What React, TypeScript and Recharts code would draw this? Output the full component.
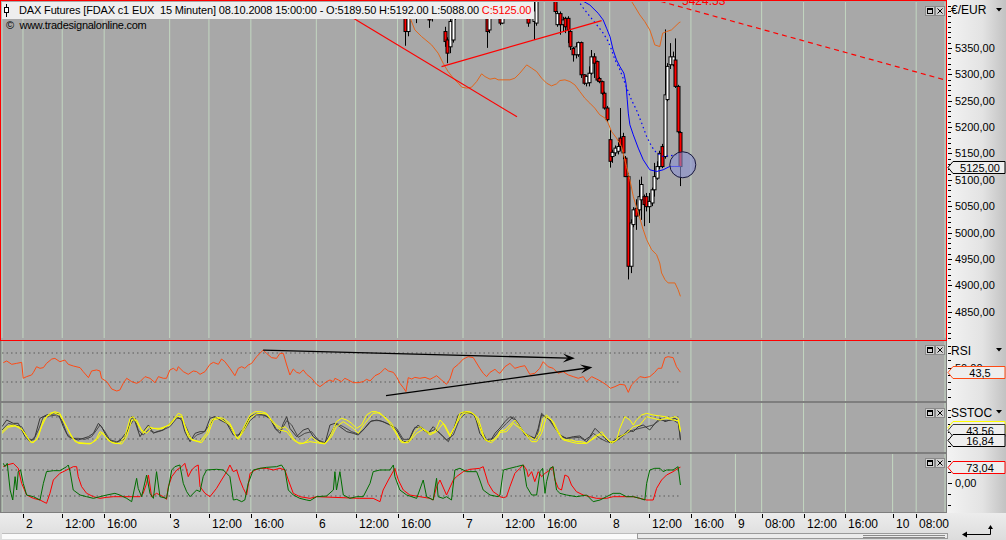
import React from 'react';
import {
  ComposedChart,
  Line,
  Bar,
  XAxis,
  YAxis,
  CartesianGrid,
  ReferenceLine,
  ReferenceDot,
} from 'recharts';

// x = 15-minute bar number (bar 0 = 01.10.2008 20:15, 56 bars per session day)
const tickBars = [8, 23, 39, 64, 79, 95, 120, 135, 151, 176, 191, 207, 232, 247, 263, 280, 290, 306, 322, 340, 349];
const tickLabels = ['2', '12:00', '16:00', '3', '12:00', '16:00', '6', '12:00', '16:00', '7', '12:00', '16:00', '8', '12:00', '16:00', '9', '08:00', '12:00', '16:00', '10', '08:00'];

// FDAX candles (only bars that reach into the visible price range)
const candleBars = [154, 155, 157, 158, 163, 164, 169, 170, 171, 172, 173, 185, 186, 190, 191, 201, 203, 204,
  211, 212, 213, 214, 215, 216, 217, 218, 219, 220, 221, 222, 223, 224, 225, 226, 227, 228, 229, 230, 231,
  232, 233, 234, 235, 236, 237, 238, 239, 240, 241, 242, 243, 244, 245, 246, 247, 248, 249, 250, 251, 252, 253, 254, 255, 256, 257, 258, 259];
const opens = [5460, 5381, 5450, 5440, 5450, 5407, 5381, 5365, 5352, 5365, 5445, 5450, 5384, 5440, 5397, 5445, 5400, 5397,
  5450, 5394, 5415, 5394, 5406, 5406, 5381, 5349, 5337, 5337, 5360, 5299, 5283, 5284, 5302, 5333, 5324, 5292, 5286, 5264, 5236,
  5176, 5144, 5151, 5154, 5179, 5182, 5141, 5106, 4936, 5015, 5046, 5043, 5062, 5068, 5068, 5049, 5056, 5081, 5103, 5125, 5163, 5144, 5252, 5318, 5318, 5327, 5277, 5189.5];
const highs = [5470, 5460, 5460, 5460, 5460, 5460, 5390, 5370, 5410, 5420, 5455, 5460, 5455, 5455, 5450, 5460, 5440, 5455,
  5460, 5420, 5419, 5409, 5409, 5410, 5384, 5352, 5360, 5362, 5362, 5300, 5298, 5315, 5346, 5340, 5326, 5295, 5288, 5267, 5240,
  5195, 5157, 5165, 5175, 5236, 5189, 5145, 5113, 5025, 5048, 5063, 5100, 5106, 5072, 5075, 5075, 5085, 5132, 5135, 5155, 5168, 5385, 5321, 5359, 5343, 5368, 5280, 5192];
const lows = [5354, 5372, 5407, 5397, 5388, 5400, 5352, 5321, 5340, 5360, 5403, 5350, 5378, 5393, 5395, 5390, 5365, 5392,
  5415, 5390, 5375, 5381, 5378, 5359, 5346, 5324, 5330, 5333, 5293, 5280, 5277, 5277, 5299, 5293, 5286, 5283, 5261, 5233, 5210,
  5123, 5132, 5145, 5148, 5155, 5139, 5105, 4911, 4923, 5010, 5005, 5031, 5024, 5012, 5040, 5018, 5050, 5068, 5100, 5120, 5122, 5140, 5249, 5310, 5315, 5274, 5188, 5088];
const closes = [5381, 5445, 5430, 5445, 5403, 5445, 5362, 5340, 5400, 5409, 5420, 5381, 5440, 5397, 5430, 5397, 5420, 5440,
  5419, 5415, 5394, 5403, 5390, 5384, 5352, 5337, 5352, 5360, 5299, 5283, 5296, 5302, 5333, 5321, 5289, 5286, 5264, 5236, 5214,
  5135, 5152, 5160, 5163, 5163, 5151, 5106, 4936, 5018, 5043, 5031, 5068, 5091, 5053, 5049, 5059, 5081, 5106, 5125, 5150, 5125, 5261, 5315, 5333, 5333, 5277, 5191, 5125];

// overlays in the price panel: [bar, price]
const lowerBand = [[153.4, 5441], [155.1, 5415.7], [157.6, 5384.1], [160.2, 5371.4], [164, 5355.7], [166.5, 5340], [168.4, 5321], [170.3, 5305.1], [172.3, 5292.6], [174.2, 5283.1], [175.5, 5275.6], [177.4, 5273.7], [179.3, 5275.6], [181.2, 5286.2], [183.1, 5300.8], [184.4, 5295.6], [186.3, 5290.7], [188.2, 5292.6], [189.4, 5289.4], [193.9, 5289.4], [195.8, 5292.6], [197.7, 5302.1], [200.3, 5317.8], [202.2, 5311.6], [204.1, 5305.1], [206, 5292.6], [207.9, 5283.1], [209.8, 5278], [211.7, 5281.8], [213, 5288.1], [214.9, 5289.4], [216.8, 5286.2], [218.7, 5279.9], [220.6, 5267.2], [222.5, 5254.7], [224.4, 5245.3], [226.3, 5235.8], [228.2, 5223.1], [230.2, 5216.9], [231.4, 5207.4], [232.7, 5191.5], [234.6, 5179], [236.5, 5163.1], [238.4, 5125.2], [239.7, 5100], [241, 5068.4], [242.9, 5036.9], [244.8, 5005.3], [246.1, 4986.4], [248, 4967.4], [249.9, 4958], [251.1, 4942.2], [251.8, 4923.3], [253.1, 4910.6], [254.3, 4904.4], [256.9, 4904.4], [258.1, 4891.7], [259, 4879]];
const upperBand = [[240.1, 5440], [241.6, 5428.2], [243.5, 5412.5], [245.4, 5399.8], [247.3, 5384.1], [248.6, 5365.2], [249.2, 5355.7], [251.1, 5352.5], [251.8, 5368.4], [252.2, 5377.8], [253.7, 5380.9], [255.6, 5384.1], [256.9, 5390.3], [258.5, 5397.9], [259, 5399]];
const maSolid = [[221, 5441], [224.4, 5431.4], [227.6, 5415.7], [229.5, 5403], [230.8, 5387.3], [232.1, 5371.4], [233.3, 5346.2], [234.6, 5327.3], [235.9, 5314.6], [237.4, 5302.1], [238.2, 5283.1], [238.7, 5251.5], [239.1, 5226.3], [239.7, 5204.2], [241, 5185.2], [242.9, 5160], [244.8, 5137.9], [247.3, 5118.9], [249.9, 5115.7], [252.4, 5118.9], [254.9, 5125.2], [256.9, 5125.2], [259, 5125.2]];
const maDotted = [[219.8, 5441], [221.9, 5425.6], [224.4, 5409.7], [227, 5393.9], [229.5, 5378.2], [231.4, 5362.3], [232.7, 5346.6], [234, 5327.7], [235.9, 5308.7], [237.8, 5283.1], [240.3, 5251.5], [242.2, 5232.6], [244.2, 5207.4], [246.1, 5182], [248, 5163.1], [249.9, 5150.5], [252.4, 5144.1], [254.9, 5145.5], [257.5, 5147.3]];

// hand-drawn objects
const trendDown = [[130.2, 5418.2], [196.6, 5219.3]];
const trendUp = [[167.8, 5314.6], [228.9, 5401.7]];
const trendDashed = [[248.1, 5442.8], [359.9, 5289.4]];
const circleAt = [259.9, 5128.4];

// RSI
const rsi = [[0.5, 56.7], [1.8, 59], [3.7, 54.4], [5.6, 55.7], [7.5, 57.1], [8.1, 35.1], [9.4, 37.4], [11.3, 39.7], [12, 43.3], [13.2, 51.1], [14.5, 48.9], [15.8, 49.8], [17, 55.7], [19, 61.7], [20.2, 62.6], [22.1, 58], [24, 60.3], [25.3, 54.4], [27.2, 52.1], [29.8, 49.8], [31, 44.3], [33, 36], [34.2, 45.2], [36.1, 46.6], [37.4, 45.2], [38, 35.1], [40, 30.5], [41.9, 20.3], [43.8, 17.6], [45, 19], [46.3, 28.2], [47.6, 35.1], [49.5, 30.5], [51.4, 28.2], [52.7, 30.5], [54.6, 37.4], [56.5, 35.1], [58.4, 29.1], [59.7, 37.4], [61.6, 35.1], [62.8, 35.1], [64.1, 46.6], [65.4, 48.9], [66.7, 45.2], [67.3, 51.1], [69.2, 44.3], [71.1, 40.6], [73, 45.2], [74.3, 44.3], [75.6, 40.6], [77.5, 44.3], [79.4, 54.4], [80.7, 57.1], [82.6, 54.4], [83.8, 61.7], [85.1, 58], [87, 48.9], [88.9, 38.7], [90.2, 48.9], [91.5, 51.1], [92.7, 48.9], [94, 53.4], [95.3, 55.7], [97.2, 64.9], [99.7, 74.1], [101, 69.5], [102.9, 63.6], [104.8, 62.6], [106.1, 69.5], [107.4, 69.5], [108.7, 53.4], [109.9, 39.7], [111.2, 47.9], [112.5, 43.3], [113.7, 42], [115, 46.6], [116.3, 40.6], [118.2, 35.1], [120.1, 26.8], [121.4, 23.6], [122.6, 26.8], [123.9, 30.5], [125.2, 32.8], [126.5, 30.5], [127.1, 35.1], [128.4, 32.8], [129.6, 30.5], [130.9, 35.1], [132.2, 32.8], [134.1, 29.1], [136, 29.1], [137.9, 30.5], [139.2, 33.7], [140.5, 31.4], [142.4, 38.7], [144.3, 42], [146.2, 48.9], [147.5, 45.2], [149.4, 43.3], [150.6, 37.4], [151.9, 28.2], [153.2, 22.2], [154.2, 16.7], [155.1, 36], [156.4, 34.1], [157.6, 36.4], [159.5, 35.1], [161.5, 36.4], [163.4, 33.7], [164.6, 36], [165.9, 38.7], [167.8, 32.8], [169.7, 26.8], [171, 34.1], [172.3, 48.9], [174.2, 54.4], [176.1, 61.7], [178, 64.9], [179.9, 63.6], [182.4, 48.9], [183.7, 42], [185, 37.4], [186.3, 43.3], [188.2, 47.5], [189.4, 43.3], [190.1, 42], [192, 51.1], [193.9, 55.7], [195.8, 48.9], [197.7, 51.1], [199.6, 52.5], [201.5, 40.6], [203.4, 42], [205.3, 48.9], [206.6, 58], [208.5, 51.1], [210.4, 48.9], [212.3, 42], [214.2, 44.3], [216.2, 39.7], [218.1, 37.4], [220, 35.1], [221.9, 37.4], [223.2, 30.5], [225.1, 37.4], [227, 34.1], [228.9, 30.5], [230.8, 25.9], [232.3, 21.3], [234, 23.6], [235.9, 26.8], [237.8, 25.9], [239.1, 15.7], [240.3, 25.9], [241.6, 30.5], [243.5, 37.4], [245.4, 36], [247.3, 37.4], [249.2, 43.3], [250.5, 48.9], [251.8, 48.9], [253.1, 63.6], [254.3, 64.9], [256.2, 63.6], [257.5, 51.1], [259, 43.5]];
const rsiArrowHigh = [[99.7, 74.1], [218.7, 62.7]];
const rsiArrowLow = [[146.6, 11.1], [225.4, 50.3]];

// slow stochastic
const stocY1 = [[0, 40], [1.8, 53.6], [4.3, 58.2], [6.9, 51.8], [8.8, 35.5], [10.7, 12.7], [12, 10], [13.9, 26.4], [15.8, 71.8], [18.3, 90], [20.2, 94.5], [22.1, 90], [24, 62.7], [26, 35.5], [27.9, 12.7], [29.8, 10], [32.3, 8.2], [34.2, 8.2], [36.1, 21.8], [37.4, 40], [38.7, 35.5], [40.6, 15.5], [43.1, 8.2], [45, 8.2], [46.9, 26.4], [48.9, 76.4], [50.1, 80.9], [52, 58.2], [53.9, 35.5], [55.9, 53.6], [57.8, 49.1], [59.7, 46.4], [61.6, 49.1], [63.5, 58.2], [65.4, 71.8], [67.3, 90], [68.6, 85.5], [69.8, 53.6], [71.1, 26.4], [73, 17.3], [75.6, 12.7], [78.1, 35.5], [80, 71.8], [81.9, 79.1], [84.5, 76.4], [87, 62.7], [88.3, 44.5], [89.6, 21.8], [90.8, 28.2], [92.7, 58.2], [94.7, 85.5], [96.6, 94.5], [99.1, 94.5], [101, 90], [102.9, 71.8], [104.8, 58.2], [106.7, 49.1], [108, 53.6], [109.3, 44.5], [111.2, 21.8], [113.1, 10], [115, 8.2], [116.9, 17.3], [118.2, 26.4], [119.5, 17.3], [121.4, 10], [123.3, 8.2], [124.6, 19.1], [125.8, 35.5], [127.7, 67.3], [129.6, 76.4], [131.6, 71.8], [133.5, 62.7], [135.4, 49.1], [137.3, 58.2], [139.2, 85.5], [141.1, 94.5], [143, 94.5], [144.9, 85.5], [146.8, 76.4], [148.7, 62.7], [150, 44.5], [151.9, 17.3], [153.8, 10], [155.7, 17.3], [157.6, 40], [159.5, 53.6], [161.5, 44.5], [163.4, 35.5], [165.3, 40], [167.2, 71.8], [169.1, 58.2], [171, 30.9], [172.9, 53.6], [174.8, 90], [176.7, 94.5], [178.6, 94.5], [180.5, 85.5], [181.8, 62.7], [183.7, 26.4], [185.6, 12.7], [187.5, 17.3], [189.4, 30.9], [190.1, 42], [192, 44.5], [193.9, 58.2], [195.8, 71.8], [197.7, 53.6], [199.6, 35.5], [201.5, 26.4], [203.4, 17.3], [205.4, 40], [206.6, 76.4], [207.9, 85.5], [209.8, 71.8], [211.7, 44.5], [213.6, 21.8], [215.5, 17.3], [217.4, 17.3], [219.4, 12.7], [221.3, 12.7], [223.2, 8.2], [225.1, 17.3], [227, 26.4], [228.9, 40], [230.8, 21.8], [232.7, 8.2], [234.6, 17.3], [235.9, 49.1], [237.8, 80.9], [239.7, 71.8], [241, 58.2], [242.2, 71.8], [244.2, 85.5], [246.1, 90], [248.6, 85.5], [251.2, 82.7], [253.1, 80.9], [255, 76.4], [256.9, 80.9], [258.2, 76.4], [259, 44.5]];
const stocY2 = [[0, 35.5], [2.4, 51.8], [5, 55.5], [7.5, 46.4], [9.4, 26.4], [11.3, 10], [13.2, 17.3], [15.1, 53.6], [17, 80.9], [19.6, 91.8], [22.1, 85.5], [24.7, 53.6], [26.6, 24.5], [29.1, 8.2], [33.6, 6.4], [36.1, 17.3], [38, 35.5], [39.7, 26.4], [41.9, 10], [45.7, 6.4], [47.6, 26.4], [49.5, 71.8], [51.4, 71.8], [53.3, 44.5], [55.2, 35.5], [57.1, 49.1], [60.3, 49.1], [64.1, 58.2], [66.7, 80.9], [68.6, 80.9], [70.5, 44.5], [72.4, 17.3], [76.2, 10], [78.8, 35.5], [80.7, 71.8], [83.2, 76.4], [87, 58.2], [88.9, 30.9], [90.2, 19.1], [92.1, 40], [94.7, 76.4], [97.2, 90], [101, 88.2], [103.6, 62.7], [106.1, 44.5], [108.7, 40], [111.2, 17.3], [113.7, 6.4], [117.6, 12.7], [120.1, 10], [123.3, 6.4], [125.8, 26.4], [127.7, 53.6], [130.3, 67.3], [134.1, 49.1], [136, 35.5], [138.5, 62.7], [141.7, 90], [144.3, 91.8], [147.5, 67.3], [150, 40], [152.5, 10], [155.1, 10], [158.3, 35.5], [160.8, 46.4], [163.4, 30.9], [165.9, 40], [168.4, 62.7], [171, 26.4], [173.5, 62.7], [176.1, 90], [179.3, 91.8], [181.8, 76.4], [184.4, 17.3], [186.9, 10], [189.4, 26.4], [190.1, 38], [192.6, 40], [195.2, 62.7], [197.7, 49.1], [199.6, 35.5], [202.2, 12.7], [204.1, 12.7], [206, 35.5], [207.9, 80.9], [210.5, 67.3], [212.4, 40], [214.3, 17.3], [216.8, 12.7], [219.4, 8.2], [223.2, 8.2], [227, 30.9], [229.5, 30.9], [232.1, 12.7], [234, 12.7], [235.9, 26.4], [238.4, 35.5], [241, 53.6], [243.5, 58.2], [246.1, 80.9], [248.6, 76.4], [251.2, 71.8], [253.7, 76.4], [256.2, 71.8], [258.2, 70], [259, 40]];
const stocG1 = [[0, 53.6], [1.8, 71.8], [4.3, 62.7], [6.2, 62.7], [8.8, 26.4], [10.7, 12.7], [12.6, 26.4], [14.5, 76.4], [17, 85.5], [19.6, 88.2], [21.5, 90], [23.4, 53.6], [25.3, 26.4], [27.2, 21.8], [29.1, 17.3], [31, 21.8], [33, 26.4], [34.9, 35.5], [36.8, 62.7], [38, 53.6], [40, 26.4], [41.9, 12.7], [43.8, 10], [45.7, 21.8], [48.2, 44.5], [49.5, 80.9], [50.8, 67.3], [52.7, 26.4], [53.9, 40], [55.9, 58.2], [57.8, 35.5], [59, 40], [61.6, 44.5], [64.1, 62.7], [66.7, 80.9], [68.6, 71.8], [69.8, 40], [71.8, 12.7], [73.7, 35.5], [75.6, 40], [77.5, 40], [79.4, 76.4], [81.3, 80.9], [83.2, 71.8], [85.8, 62.7], [88.3, 30.9], [90.2, 30.9], [92.7, 53.6], [94.7, 80.9], [97.2, 90], [99.7, 85.5], [102.3, 76.4], [104.2, 49.1], [106.1, 35.5], [107.4, 62.7], [108.7, 80.9], [109.9, 49.1], [112.5, 26.4], [115, 44.5], [116.9, 49.1], [118.8, 26.4], [121.4, 12.7], [123.3, 8.2], [125.2, 58.2], [127.1, 62.7], [129, 53.6], [131.6, 40], [134.1, 35.5], [136, 30.9], [137.9, 44.5], [140.5, 67.3], [143, 71.8], [145.5, 67.3], [148.1, 58.2], [150.6, 44.5], [153.2, 12.7], [155.1, 12.7], [157, 44.5], [158.9, 58.2], [160.8, 44.5], [162.7, 35.5], [164.6, 53.6], [166.5, 40], [168.4, 26.4], [170.4, 12.7], [172.3, 44.5], [174.2, 85.5], [176.7, 94.5], [178.6, 90], [180.5, 85.5], [182.4, 35.5], [184.4, 17.3], [186.3, 12.7], [188.2, 35.5], [190.1, 50], [192, 67.3], [193.9, 80.9], [195.8, 71.8], [197.7, 53.6], [199.6, 35.5], [201.5, 28.2], [203.4, 21.8], [204.7, 49.1], [206, 90], [207.3, 80.9], [209.2, 71.8], [211.1, 53.6], [213, 30.9], [215.5, 21.8], [218.1, 26.4], [220.6, 28.2], [222.5, 17.3], [224.4, 26.4], [226.4, 49.1], [228.3, 35.5], [230.2, 21.8], [232.1, 10], [234, 17.3], [235.3, 26.4], [237.2, 30.9], [239.1, 44.5], [241, 40], [242.9, 53.6], [244.8, 58.2], [247.3, 44.5], [249.3, 62.7], [251.2, 76.4], [253.1, 67.3], [255, 71.8], [256.9, 76.4], [258.2, 70], [259, 16.84]];
const stocG2 = [[0, 44.5], [2.4, 62.7], [5, 58.2], [7.5, 53.6], [10.1, 19.1], [12, 17.3], [13.9, 44.5], [15.8, 80.9], [18.3, 82.7], [20.9, 85.5], [22.8, 71.8], [24.7, 35.5], [26.6, 21.8], [29.1, 21.8], [31.7, 19.1], [34.2, 26.4], [36.1, 44.5], [37.4, 58.2], [39.3, 40], [41.2, 17.3], [43.8, 12.7], [46.3, 17.3], [48.9, 58.2], [50.8, 76.4], [52, 44.5], [53.9, 30.9], [55.9, 44.5], [58.4, 37.3], [60.9, 42.7], [64.1, 53.6], [66.7, 76.4], [68.6, 76.4], [70.5, 49.1], [72.4, 17.3], [74.3, 30.9], [76.8, 37.3], [78.8, 53.6], [81.3, 79.1], [84.5, 73.6], [87, 53.6], [89.6, 26.4], [92.1, 40], [94.7, 70], [97.2, 85.5], [100.4, 85.5], [102.9, 71.8], [104.8, 44.5], [106.7, 44.5], [108.7, 70], [110.6, 58.2], [113.1, 24.5], [115.6, 35.5], [118.2, 40], [120.7, 17.3], [123.3, 10], [125.8, 40], [127.7, 62.7], [130.3, 53.6], [133.5, 40], [136, 33.6], [138.5, 49.1], [141.1, 70], [144.3, 70], [147.5, 60.9], [150.6, 49.1], [153.2, 19.1], [155.7, 19.1], [157.6, 51.8], [160.2, 51.8], [162.7, 37.3], [165.3, 46.4], [167.2, 35.5], [169.7, 17.3], [172.3, 30.9], [174.8, 76.4], [177.4, 91.8], [179.9, 88.2], [182.4, 53.6], [185, 17.3], [187.5, 21.8], [190.1, 45], [192.6, 62.7], [195.2, 80.9], [197.1, 62.7], [199.6, 30.9], [201.5, 26.4], [204.1, 21.8], [206, 85.5], [208.5, 76.4], [211.1, 49.1], [213.6, 26.4], [215.5, 21.8], [220.6, 24.5], [223.2, 12.7], [225.7, 35.5], [228.3, 21.8], [230.8, 12.7], [233.4, 10], [235.9, 21.8], [238.4, 35.5], [241, 44.5], [243.5, 49.1], [246.1, 53.6], [248.6, 58.2], [251.2, 71.8], [253.7, 70], [256.2, 71.8], [258.2, 62.7], [259, 19.1]];

// bottom oscillator (green / red)
const oscGreen = [[0.5, 90.8], [1.1, 75.4], [2, 90.8], [3.1, -32.3], [4.1, -78.5], [5, 29.2], [5.6, -32.3], [6.2, 52.3], [7.1, 60], [8.1, -1.5], [9.4, -55.4], [12, -63.1], [14.5, -78.5], [15.8, -1.5], [17, 52.3], [19.6, 56.9], [22.1, 56.9], [24.7, 75.4], [25.3, 83.1], [26, 52.3], [27.2, -32.3], [29.8, -55.4], [32.3, -63.1], [34.9, -70.8], [37.4, -63.1], [40, -55.4], [43.1, -47.7], [45, -55.4], [47.6, -70.8], [49.5, -86.2], [51.4, 21.5], [52, -24.6], [53.3, -63.1], [55.2, 36.9], [56.5, -47.7], [57.8, -70.8], [59, 52.3], [60.3, -63.1], [62.8, -70.8], [64.1, 13.8], [64.8, 60], [66, 75.4], [67.9, 83.1], [69.2, -1.5], [70.5, -40], [71.8, -63.1], [74.3, -32.3], [75.6, -40], [76.8, 29.2], [78.1, 60], [81.9, 63.1], [84.5, 60], [87, 29.2], [88.3, -78.5], [89.6, -75.4], [91.5, -86.2], [92.7, -78.5], [94, -1.5], [95.9, 60], [98.5, 67.7], [101, 72.3], [104.8, 75.4], [106.7, 83.1], [108, 60], [109.3, -32.3], [111.2, -55.4], [113.7, -70.8], [116.3, -78.5], [117.6, -81.5], [120.1, -63.1], [123.9, -60], [126.5, -32.3], [127.1, 52.3], [127.7, -32.3], [128.4, 13.8], [129, 52.3], [130.3, -55.4], [132.8, -70.8], [135.4, -63.1], [137.9, -63.1], [140.5, -1.5], [141.7, 52.3], [144.3, 60], [148.1, 60], [149.4, 83.1], [150, 29.2], [151.9, -32.3], [154.5, -55.4], [158.3, -70.8], [160.8, 13.8], [162.1, -63.1], [164.6, -78.5], [165.9, 21.5], [166.5, -63.1], [168.4, -70.8], [169.7, -63.1], [171.6, -78.5], [172.9, 60], [174.8, 67.7], [177.4, 52.3], [181.2, 52.3], [182.4, 13.8], [183.7, -32.3], [186.3, -55.4], [189.4, -63.1], [190.1, -55.4], [191.4, 60], [193.9, 67.7], [196.4, 75.4], [199, 83.1], [200.3, -16.9], [202.2, -55.4], [204.1, -55.4], [205.4, 52.3], [206.4, 67.7], [207.3, -47.7], [207.9, 6.2], [209.2, 67.7], [210.4, 75.4], [211.7, -32.3], [213, -47.7], [215.5, -55.4], [219.3, -63.1], [223.2, -55.4], [225.7, -86.2], [228.3, -78.5], [230.8, -63.1], [233.3, -47.7], [235.9, -47.7], [238.4, -63.1], [241, -63.1], [243.5, -70.8], [245.4, -78.5], [246.1, -1.5], [247.3, 60], [249.2, 67.7], [251.2, 67.7], [252.4, 52.3], [253.7, 60], [256.2, 60], [258.1, 75.4], [259, -9.2]];
const oscRed = [[0.5, 75.4], [1.8, 83.1], [4.3, 90.8], [6.2, 67.7], [7.5, -1.5], [9.4, -55.4], [12, -70.8], [14.5, -78.5], [17, -93.8], [18.3, -47.7], [19.6, 13.8], [22.1, 44.6], [24.7, 60], [26, 67.7], [27.2, 75.4], [28.5, 75.4], [29.1, 29.2], [30.4, -16.9], [32.3, -47.7], [34.9, -63.1], [37.4, -70.8], [40, -66.2], [42.5, -63.1], [52.7, -63.1], [53.9, -47.7], [55.2, -1.5], [55.9, 36.9], [57.1, -63.1], [59, -47.7], [61.6, -63.1], [62.8, -75.4], [63.5, -16.9], [64.8, 29.2], [66.7, 60], [68.6, 75.4], [69.8, 90.8], [71.1, 29.2], [72.4, 60], [73.7, 75.4], [74.9, 83.1], [75.6, -16.9], [77.5, -47.7], [79.4, -63.1], [81.9, -24.6], [83.8, 13.8], [85.8, 52.3], [87, 83.1], [88.3, 52.3], [89.6, 60], [90.8, 13.8], [92.1, -24.6], [93.4, -55.4], [94.7, 44.6], [96.6, 60], [98.5, 67.7], [101, 67.7], [103.6, 60], [106.1, 67.7], [108, 60], [109.3, 13.8], [111.2, -47.7], [113.7, -63.1], [117.6, -70.8], [120.1, -63.1], [136.6, -70.8], [141.7, -70.8], [144.3, -86.2], [145.5, -32.3], [147.5, 13.8], [150, 67.7], [151.3, 13.8], [153.2, -32.3], [155.7, -55.4], [159.5, -63.1], [163.4, -70.8], [164.6, -78.5], [165.9, -16.9], [167.2, 13.8], [169.7, -55.4], [172.3, 13.8], [173.5, 29.2], [176.1, 52.3], [178.6, 63.1], [182.4, 67.7], [183.7, 75.4], [185.6, -1.5], [187.5, -40], [189.4, -55.4], [190.1, -63.1], [191.4, -67.7], [192.6, -63.1], [193.9, -16.9], [195.8, 44.6], [197.7, 67.7], [199, 83.1], [200.3, 60], [200.9, 29.2], [202.2, 52.3], [203.4, 6.2], [204.7, 52.3], [206, 29.2], [207.3, 44.6], [209.2, 60], [210.2, 75.4], [211.1, 13.8], [212.4, -24.6], [213.6, -32.3], [214.9, 36.9], [216.2, 29.2], [217.4, -9.2], [219.3, -40], [221.9, -55.4], [224.4, -63.1], [227, -70.8], [230.8, -70.8], [233.3, -63.1], [241, -63.1], [243.5, -70.8], [246.1, -78.5], [248.6, -78.5], [249.9, -24.6], [251.8, 13.8], [253.7, 36.9], [256.2, 52.3], [258.1, 67.7], [259, 73.04]];

// last values shown in the axis tags: [value, decimals, border colour]
const priceTags: [number, number, string][] = [[5125, 2, '#000000']];
const rsiTags: [number, number, string][] = [[43.5, 1, '#ff4a14']];
const stocTags: [number, number, string][] = [[51.99, 2, '#ffff00'], [43.56, 2, '#3a3a3a'], [16.84, 2, '#000000']];
const oscTags: [number, number, string][] = [[73.04, 2, '#ff0000']];

const LAST_BAR = 259;
const BG = '#a8a8a8';
const GRID = '#c3d7c1';
const FONT = '"Liberation Sans", Arial, sans-serif';
const NARROW = '"Liberation Sans Narrow", "Arial Narrow", "Liberation Sans", sans-serif';

const rows = (pairs: number[][]) => pairs.map(([i, v]) => ({ i, v }));
const seg = (pairs: number[][]) => pairs.map(([x, y]) => ({ x, y }));
const de = (v: number, d = 2) => v.toFixed(d).replace('.', ',');

const candles = candleBars.map((i, k) => ({ i, o: opens[k], h: highs[k], l: lows[k], c: closes[k] }));
const priceTicks = Array.from({ length: 64 }, (_, k) => 4800 + k * 10);

function Candle(props: any) {
  const { x, y, width, height, payload } = props;
  if (x == null || !payload) return null;
  const { o, h, l, c } = payload;
  const k = h > l ? height / (h - l) : 0;
  const cx = Math.round(x + width / 2) + 0.5;
  const top = y + (h - Math.max(o, c)) * k;
  const bot = y + (h - Math.min(o, c)) * k;
  return (
    <g>
      <line x1={cx} x2={cx} y1={y} y2={y + height} stroke="#000" />
      <rect x={cx - 1.5} y={top} width={3} height={Math.max(bot - top, 1)} fill={c < o ? '#ff0000' : '#ffffff'} stroke="#000" />
    </g>
  );
}

function AxisTick({ x, y, payload, labelAt }: any) {
  const v = payload.value;
  const major = labelAt.includes(v);
  const py = Math.round(y) + 0.5;
  return (
    <g>
      <line x1={x + 3} x2={x + (major ? 7 : 6)} y1={py} y2={py} stroke="#000" />
      {major && (
        <text x={x + 10} y={y + 4} fontSize={11} fontFamily={FONT} fill="#000">{de(v)}</text>
      )}
    </g>
  );
}

function TimeTick({ x, y, payload }: any) {
  const px = Math.round(x) + 0.5;
  const label = tickLabels[tickBars.indexOf(payload.value)];
  return (
    <g>
      <line x1={px} x2={px} y1={y + 2} y2={y + 6} stroke="#000" />
      <text x={px + 2.5} y={y + 16} fontSize={12} fontFamily={NARROW} fill="#000">{label}</text>
    </g>
  );
}

function ValueTag({ viewBox, text, border }: any) {
  if (!viewBox) return null;
  const x = viewBox.x + viewBox.width + 3;
  const y = Math.round(viewBox.y) + 0.5;
  return (
    <g>
      <path d={`M${x},${y} L${x + 5},${y - 6} L${x + 57},${y - 6} L${x + 57},${y + 6} L${x + 5},${y + 6} Z`} fill="#eeeeee" stroke={border} />
      <text x={x + 32} y={y + 4} textAnchor="middle" fontSize={11} fontFamily={FONT} fill="#000">{text}</text>
    </g>
  );
}

function ArrowShape(props: any) {
  const { x1, y1, x2, y2 } = props;
  if ([x1, y1, x2, y2].some((v) => v == null || Number.isNaN(v))) return null;
  const a = Math.atan2(y2 - y1, x2 - x1);
  const cs = Math.cos(a);
  const sn = Math.sin(a);
  const bx = x2 - 12 * cs;
  const by = y2 - 12 * sn;
  const nx = x2 - 7 * cs;
  const ny = y2 - 7 * sn;
  const pts = [[x2, y2], [bx - 4.5 * sn, by + 4.5 * cs], [nx, ny], [bx + 4.5 * sn, by - 4.5 * cs]];
  return (
    <g>
      <line x1={x1} y1={y1} x2={nx} y2={ny} stroke="#000" strokeWidth={1.3} />
      <polygon points={pts.map((p) => p.join(',')).join(' ')} fill="#000" />
    </g>
  );
}

const xAxisProps = {
  type: 'number' as const,
  dataKey: 'i',
  domain: [0, 360],
  ticks: tickBars,
  allowDataOverflow: true,
};

const lineProps = { dataKey: 'v', dot: false, isAnimationActive: false, type: 'linear' as const };

// transparent chart on top of a panel, so the value tags cover the axis labels
function TagLayer({ top, height, margin, domain, tags }: any) {
  return (
    <div style={{ position: 'absolute', left: 0, top }}>
      <ComposedChart width={1006} height={height} margin={margin}>
        <XAxis {...xAxisProps} hide />
        <YAxis orientation="right" width={61} domain={domain} allowDataOverflow axisLine={false} tickLine={false} tick={false} />
        {tags.map(([v, d, border]: [number, number, string]) => (
          <ReferenceLine key={v} y={v} stroke="none" label={<ValueTag text={de(v, d)} border={border} />} />
        ))}
      </ComposedChart>
    </div>
  );
}

function Icons({ y }: { y: number }) {
  return (
    <g>
      <rect x={925.5} y={y + 0.5} width={9} height={9} fill="#d0d0d0" stroke="#8a8a8a" />
      <rect x={927.5} y={y + 2.5} width={5} height={5} fill="none" stroke="#000" />
      <line x1={927.5} x2={932.5} y1={y + 3.5} y2={y + 3.5} stroke="#000" />
      <rect x={935.5} y={y + 0.5} width={9} height={9} fill="#d0d0d0" stroke="#8a8a8a" />
      <path d={`M937.5,${y + 2.5} L942.5,${y + 7.5} M942.5,${y + 2.5} L937.5,${y + 7.5}`} stroke="#000" />
    </g>
  );
}

const Tri = ({ y }: { y: number }) => <polygon points={`996,${y} 1002,${y} 999,${y + 3.5}`} fill="#000" />;

const mPrice = { top: 2, right: 0, bottom: 2, left: 2 };
const mPanel = { top: 0, right: 0, bottom: 0, left: 2 };
const mOsc = { top: 0, right: 0, bottom: 28, left: 2 };

export default function App() {
  return (
    <div style={{ position: 'absolute', left: 0, top: 0, width: 1006, height: 540, overflow: 'hidden', background: '#7e7e7e', fontFamily: FONT }}>
      {/* panel backgrounds */}
      <div style={{ position: 'absolute', left: 0, top: 0, width: 947, height: 341, background: BG, border: '1px solid #ff0000', boxSizing: 'border-box' }} />
      <div style={{ position: 'absolute', left: 2, top: 341, width: 944, height: 60, background: BG }} />
      <div style={{ position: 'absolute', left: 2, top: 403, width: 944, height: 49, background: BG }} />
      <div style={{ position: 'absolute', left: 2, top: 454, width: 944, height: 58, background: BG }} />
      <div style={{ position: 'absolute', left: 947, top: 0, width: 59, height: 513, background: 'linear-gradient(to right, #f3f3f3 0%, #e3e3e3 60%, #c2c2c2 100%)' }} />
      <div style={{ position: 'absolute', left: 0, top: 513, width: 1006, height: 27, background: 'linear-gradient(#ececec, #dcdcdc)' }} />
      <div style={{ position: 'absolute', left: 2, top: 533, width: 946, height: 6, background: '#fafafa', borderTop: '1px solid #bdbdbd', boxSizing: 'border-box' }} />
      <div style={{ position: 'absolute', left: 637, top: 533, width: 311, height: 6, background: '#ebebeb', border: '1px solid #9a9a9a', boxSizing: 'border-box' }} />
      <div style={{ position: 'absolute', left: 863, top: 535, width: 82, height: 3, borderTop: '1px solid #8a8a8a', borderBottom: '1px solid #8a8a8a', boxSizing: 'border-box' }} />

      {/* price panel */}
      <div style={{ position: 'absolute', left: 0, top: 0 }}>
        <ComposedChart width={1006} height={340} data={candles} margin={mPrice}>
          <CartesianGrid vertical horizontal={false} stroke={GRID} />
          <XAxis {...xAxisProps} hide />
          <YAxis orientation="right" width={61} domain={[4800, 5437]} ticks={priceTicks} interval={0} allowDataOverflow
            axisLine={false} tickLine={false} tickSize={0} tickMargin={0}
            tick={<AxisTick labelAt={[4850, 4900, 4950, 5000, 5050, 5100, 5150, 5200, 5250, 5300, 5350]} />} />
          <ReferenceDot x={circleAt[0]} y={circleAt[1]} r={13} fill="#8c93d4" fillOpacity={0.6} stroke="#15153a" ifOverflow="visible" />
          <Line {...lineProps} data={rows(lowerBand)} stroke="#e2661c" strokeWidth={1} />
          <Line {...lineProps} data={rows(upperBand)} stroke="#e2661c" strokeWidth={1} />
          <Line {...lineProps} data={rows(maSolid)} stroke="#0000ff" strokeWidth={1} />
          <Line {...lineProps} data={rows(maDotted)} stroke="#0000ff" strokeWidth={1.2} strokeDasharray="1.5 3" />
          <Bar dataKey={(d: any) => [d.l, d.h]} barSize={3} shape={<Candle />} isAnimationActive={false} />
          <ReferenceLine segment={seg(trendDown)} stroke="#ff0000" strokeWidth={1.2} ifOverflow="hidden" />
          <ReferenceLine segment={seg(trendUp)} stroke="#ff0000" strokeWidth={1.2} ifOverflow="hidden" />
          <ReferenceLine segment={seg(trendDashed)} stroke="#ff0000" strokeWidth={1.2} strokeDasharray="5 4" ifOverflow="hidden" />
        </ComposedChart>
      </div>
      <TagLayer top={0} height={340} margin={mPrice} domain={[4800, 5437]} tags={priceTags} />

      {/* RSI */}
      <div style={{ position: 'absolute', left: 0, top: 341 }}>
        <ComposedChart width={1006} height={60} margin={mPanel}>
          <CartesianGrid vertical horizontal={false} stroke={GRID} />
          <XAxis {...xAxisProps} hide />
          <YAxis orientation="right" width={61} domain={[3.8, 86.55]} ticks={[10, 20, 30, 40, 50, 60, 70, 80]} interval={0} allowDataOverflow
            axisLine={false} tickLine={false} tickSize={0} tickMargin={0} tick={<AxisTick labelAt={[50]} />} />
          <ReferenceLine segment={[{ x: 0, y: 70 }, { x: LAST_BAR, y: 70 }]} stroke="#5a5a5a" strokeDasharray="1.5 3" />
          <ReferenceLine segment={[{ x: 0, y: 30 }, { x: LAST_BAR, y: 30 }]} stroke="#5a5a5a" strokeDasharray="1.5 3" />
          <Line {...lineProps} data={rows(rsi)} stroke="#ff4a14" strokeWidth={1} />
          <ReferenceLine segment={seg(rsiArrowHigh)} shape={<ArrowShape />} />
          <ReferenceLine segment={seg(rsiArrowLow)} shape={<ArrowShape />} />
        </ComposedChart>
      </div>
      <TagLayer top={341} height={60} margin={mPanel} domain={[3.8, 86.55]} tags={rsiTags} />

      {/* SSTOC */}
      <div style={{ position: 'absolute', left: 0, top: 403 }}>
        <ComposedChart width={1006} height={49} margin={mPanel}>
          <CartesianGrid vertical horizontal={false} stroke={GRID} />
          <XAxis {...xAxisProps} hide />
          <YAxis orientation="right" width={61} domain={[-15.4, 118.1]} ticks={[0, 20, 40, 60, 80, 100]} interval={0} allowDataOverflow
            axisLine={false} tickLine={false} tickSize={0} tickMargin={0} tick={<AxisTick labelAt={[]} />} />
          <ReferenceLine segment={[{ x: 0, y: 80 }, { x: LAST_BAR, y: 80 }]} stroke="#5a5a5a" strokeDasharray="1.5 3" />
          <ReferenceLine segment={[{ x: 0, y: 20 }, { x: LAST_BAR, y: 20 }]} stroke="#5a5a5a" strokeDasharray="1.5 3" />
          <Line {...lineProps} data={rows(stocG2)} stroke="#4a4a4a" strokeWidth={1} />
          <Line {...lineProps} data={rows(stocG1)} stroke="#3a3a3a" strokeWidth={1} />
          <Line {...lineProps} data={rows(stocY2)} stroke="#ffff00" strokeWidth={1} />
          <Line {...lineProps} data={rows(stocY1)} stroke="#ffff00" strokeWidth={1} />
        </ComposedChart>
      </div>
      <TagLayer top={403} height={49} margin={mPanel} domain={[-15.4, 118.1]} tags={stocTags} />

      {/* bottom oscillator + time axis */}
      <div style={{ position: 'absolute', left: 0, top: 454 }}>
        <ComposedChart width={1006} height={86} margin={{ top: 0, right: 0, bottom: 0, left: 2 }}>
          <CartesianGrid vertical horizontal={false} stroke={GRID} />
          <XAxis {...xAxisProps} height={28} interval={0} axisLine={false} tickLine={false} tickSize={0} tickMargin={0} tick={<TimeTick />} />
          <YAxis orientation="right" width={61} domain={[-133.8, 133.8]} ticks={[-100, -50, 0, 50, 100]} interval={0} allowDataOverflow
            axisLine={false} tickLine={false} tickSize={0} tickMargin={0} tick={<AxisTick labelAt={[0]} />} />
          <ReferenceLine segment={[{ x: 0, y: 60 }, { x: LAST_BAR, y: 60 }]} stroke="#5a5a5a" strokeDasharray="1.5 3" />
          <ReferenceLine segment={[{ x: 0, y: -60 }, { x: LAST_BAR, y: -60 }]} stroke="#5a5a5a" strokeDasharray="1.5 3" />
          <Line {...lineProps} data={rows(oscRed)} stroke="#ff0000" strokeWidth={1} />
          <Line {...lineProps} data={rows(oscGreen)} stroke="#006e00" strokeWidth={1} />
        </ComposedChart>
      </div>
      <TagLayer top={454} height={86} margin={mOsc} domain={[-133.8, 133.8]} tags={oscTags} />

      {/* static decorations */}
      <svg width={1006} height={540} style={{ position: 'absolute', left: 0, top: 0, pointerEvents: 'none' }}>
        <Icons y={6} />
        <Icons y={345} />
        <Icons y={408} />
        <Icons y={458} />
        <Tri y={8} />
        <Tri y={348} />
        <Tri y={410} />
        <text x={951} y={14} fontSize={12} fontFamily={FONT}>€/EUR</text>
        <text x={951} y={355} fontSize={12} fontFamily={FONT}>RSI</text>
        <text x={951} y={417} fontSize={12} fontFamily={FONT}>SSTOC</text>
        <path d="M990.5,528 L990.5,534.5 L966,534.5" fill="none" stroke="#000" />
        <polygon points="962,534.5 967,531.5 967,537.5" fill="#000" />
        <polygon points="990.5,525 988,529 993,529" fill="#000" />
      </svg>

      <div style={{ position: 'absolute', left: 682, top: -6, color: '#ff0000', fontSize: 12, whiteSpace: 'nowrap' }}>5424.53</div>

      {/* title */}
      <div style={{ position: 'absolute', left: 2, top: 2, width: 532, height: 17, background: '#eeeeee' }} />
      <svg width={12} height={17} style={{ position: 'absolute', left: 1, top: 2 }}>
        <line x1={5.5} x2={5.5} y1={2} y2={15} stroke="#000" />
        <rect x={3.5} y={5.5} width={4} height={5} fill="#fff" stroke="#000" />
      </svg>
      <div style={{ position: 'absolute', left: 19, top: 2, height: 17, lineHeight: '17px', fontSize: 11, letterSpacing: -0.15, whiteSpace: 'nowrap', color: '#000' }}>
        DAX Futures [FDAX c1 EUX&nbsp;&nbsp;15 Minuten] 08.10.2008 15:00:00 - O:5189.50 H:5192.00 L:5088.00 <span style={{ color: '#ff0000' }}>C:5125.00</span>
      </div>
      <div style={{ position: 'absolute', left: 6, top: 19, height: 13, lineHeight: '13px', fontSize: 11, letterSpacing: -0.25, whiteSpace: 'nowrap', color: '#000' }}>
        ©&nbsp; www.tradesignalonline.com
      </div>
    </div>
  );
}
